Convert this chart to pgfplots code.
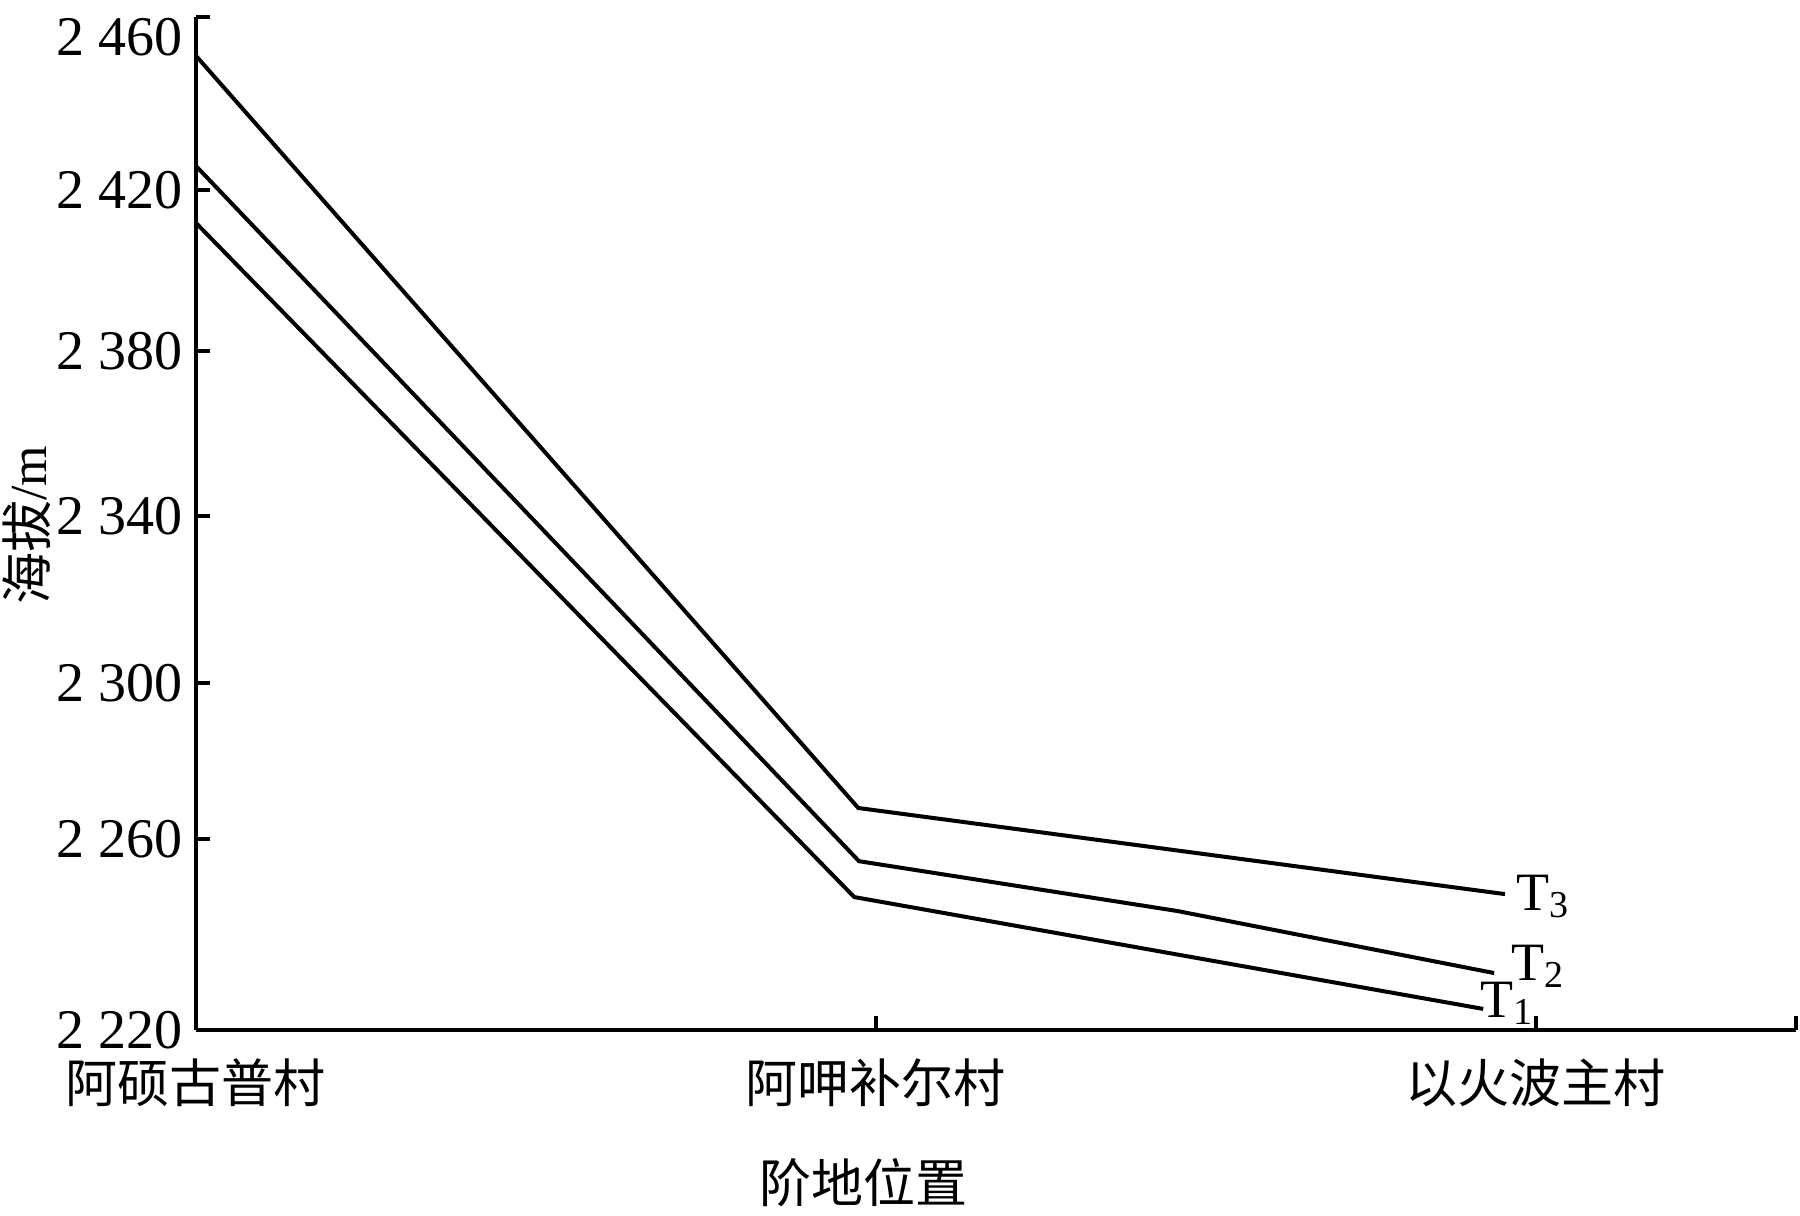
\documentclass[border=0pt]{standalone}
\usepackage{pgfplots}
\pgfplotsset{compat=1.18}
\usepackage{fontspec}
\setmainfont{Liberation Serif}
\newfontfamily\cjk{Noto Sans CJK SC}

\begin{document}
\begin{tikzpicture}
\begin{axis}[name=ax,
    scale only axis, width=400pt, height=253.25pt,
    xmin=0, xmax=2.353, ymin=2220, ymax=2460,
    axis x line*=bottom, axis y line*=left,
    axis line style={line width=1pt},
    tick align=inside, major tick length=3.5pt,
    tick style={line width=1pt, black},
    xtick={0,1,1.97,2.353},
    xticklabels={阿硕古普村,阿呷补尔村,以火波主村,{}},
    xticklabel style={font=\cjk\fontsize{13}{13}\selectfont, inner sep=0pt, yshift=-7pt},
    ytick={2220,2265.3,2302.2,2341.8,2380.9,2419.0},
    yticklabels={2 220,2 260,2 300,2 340,2 380,2 420},
    yticklabel style={font=\fontsize{14}{14}\selectfont, inner sep=0pt, xshift=-3.2pt},
    extra y ticks={2460},
    extra y tick labels={2 460},
    extra y tick style={yticklabel style={yshift=-5pt}},
    xlabel={\cjk 阶地位置},
    ylabel={{\cjk 海拔}/m},
    every axis x label/.style={at={(axis description cs:0.4175,-0.151)}, anchor=center, font=\fontsize{13}{13}\selectfont},
    every axis y label/.style={at={(axis description cs:-0.1056,0.4985)}, anchor=center, rotate=90, font=\fontsize{13}{13}\selectfont},
    clip=false,
]
% T1
\addplot[black, line width=1pt] coordinates {(0,2411.2) (0.968,2251.5) (1.893,2225.0)}
    node[pos=1, anchor=base west, xshift=-1.25pt, yshift=-2.25pt, font=\fontsize{13.5}{13.5}\selectfont, inner sep=0pt]
    {T\raisebox{-1.75pt}{\fontsize{9.5}{9.5}\selectfont 1}};
% T2
\addplot[black, line width=1pt] coordinates {(0,2424.7) (0.975,2260.0) (1.443,2248.2) (1.909,2233.5)}
    node[pos=1, anchor=base west, xshift=3.75pt, yshift=-1.75pt, font=\fontsize{13.5}{13.5}\selectfont, inner sep=0pt]
    {T\raisebox{-1.75pt}{\fontsize{9.5}{9.5}\selectfont 2}};
% T3
\addplot[black, line width=1pt] coordinates {(0,2450.8) (0.974,2272.6) (1.925,2252.2)}
    node[pos=1, anchor=base west, xshift=2.5pt, yshift=-4pt, font=\fontsize{13.5}{13.5}\selectfont, inner sep=0pt]
    {T\raisebox{-1.75pt}{\fontsize{9.5}{9.5}\selectfont 3}};
\end{axis}
\pgfresetboundingbox
\path (ax.south west) ++(-49pt,-46.25pt) rectangle ++(450pt,303.75pt);
\end{tikzpicture}
\end{document}
